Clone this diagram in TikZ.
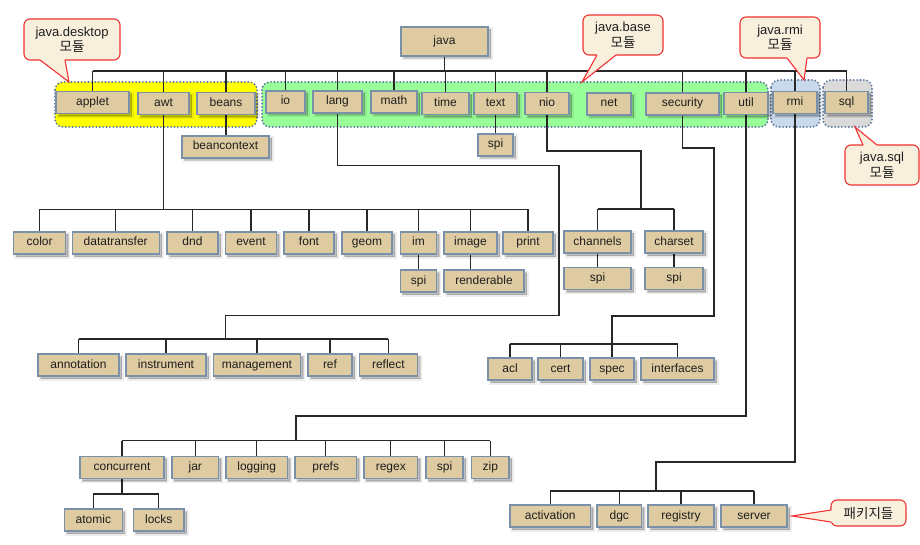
\documentclass[tikz,border=0pt]{standalone}
\usepackage{fontspec}
\setmainfont{Liberation Sans}
\newfontfamily\kr{Noto Sans CJK KR}
\definecolor{boxfill}{RGB}{223,203,161}
\definecolor{boxedge}{RGB}{122,143,168}
\definecolor{linec}{RGB}{40,40,40}
\definecolor{grpedge}{RGB}{95,122,158}
\definecolor{gyellow}{RGB}{255,255,0}
\definecolor{ggreen}{RGB}{153,255,153}
\definecolor{gblue}{RGB}{200,218,235}
\definecolor{ggray}{RGB}{218,218,218}
\definecolor{cfill}{RGB}{248,239,221}
\definecolor{cred}{RGB}{240,50,50}
\definecolor{txt}{RGB}{30,30,30}
\pgfdeclarelayer{groupslayer}
\pgfdeclarelayer{lineslayer}
\pgfsetlayers{groupslayer,lineslayer,main}
\tikzset{
  softshadow/.style={
    preaction={draw=black, fill=black, opacity=0.07, line width=4pt, transform canvas={xshift=2.5pt,yshift=-2.5pt}},
    preaction={draw=black, fill=black, opacity=0.12, line width=1.5pt, transform canvas={xshift=2.5pt,yshift=-2.5pt}}},
  pkg/.style={draw=boxedge, fill=boxfill, line width=1.1pt, minimum height=22pt,
    inner sep=0pt, text height=8.6pt, text depth=2.6pt, font=\fontsize{12}{14}\selectfont, text=txt, softshadow},
  link/.style={draw=linec, line width=1.1pt},
  grp/.style={draw=grpedge, line width=2.1pt, dash pattern=on 0pt off 3.4pt, line cap=round, rounded corners=8pt},
  cbox/.style={draw=cred, fill=cfill, line width=1.1pt, rounded corners=6pt, align=center,
    inner sep=0pt, text=txt, font=\fontsize{13}{15.5}\selectfont},
  cptr/.style={draw=cred, line width=1.1pt, line join=miter},
}
\newcommand\modul{{\kr\fontsize{13.5}{15.5}\selectfont 모듈}}
\begin{document}
\begin{tikzpicture}[x=1pt,y=-1pt]
\useasboundingbox (0,0) rectangle (920,545);

% groups
\begin{pgfonlayer}{groupslayer}
\fill[white] (0,0) rectangle (920,545);
\draw[grp, fill=gyellow] (55,82) rectangle (257,127);
\draw[grp, fill=ggreen] (262,82) rectangle (768,127);
\draw[grp, fill=gblue] (771,80) rectangle (820,127);
\draw[grp, fill=ggray] (823,80) rectangle (872,127);
\end{pgfonlayer}

% top
\node[pkg, minimum width=87pt, minimum height=29pt] (java) at (444.5,41.5) {java};
\node[pkg, minimum width=73pt] (applet) at (92.5,102.5) {applet};
\node[pkg, minimum width=51pt] (awt) at (163.5,103.5) {awt};
\node[pkg, minimum width=58pt] (beans) at (226,103.5) {beans};
\node[pkg, minimum width=39pt] (io) at (285.5,102) {io};
\node[pkg, minimum width=49pt] (lang) at (337.5,102) {lang};
\node[pkg, minimum width=46pt] (math) at (394,102) {math};
\node[pkg, minimum width=47pt] (time) at (445.5,103.5) {time};
\node[pkg, minimum width=43pt] (text) at (495.5,103.5) {text};
\node[pkg, minimum width=44pt] (nio) at (547,103.5) {nio};
\node[pkg, minimum width=44pt] (net) at (609,104) {net};
\node[pkg, minimum width=73pt] (security) at (682.5,104) {security};
\node[pkg, minimum width=44pt] (util) at (746,103.5) {util};
\node[pkg, minimum width=44pt] (rmi) at (795,102.5) {rmi};
\node[pkg, minimum width=43pt] (sql) at (846.5,102.5) {sql};

\node[pkg, minimum width=87pt] (beancontext) at (225.5,147) {beancontext};
\node[pkg, minimum width=35pt] (spiText) at (495.5,145) {spi};

% awt children
\node[pkg, minimum width=51.6pt] (color) at (39.6,243) {color};
\node[pkg, minimum width=86.7pt] (datatransfer) at (115.7,243) {datatransfer};
\node[pkg, minimum width=51pt] (dnd) at (192.5,243) {dnd};
\node[pkg, minimum width=51pt] (event) at (251,243) {event};
\node[pkg, minimum width=50pt] (font) at (309,243) {font};
\node[pkg, minimum width=50pt] (geom) at (367,243) {geom};
\node[pkg, minimum width=36pt] (im) at (418.5,243) {im};
\node[pkg, minimum width=53pt] (image) at (470.5,243) {image};
\node[pkg, minimum width=50pt] (print) at (528,243) {print};
\node[pkg, minimum width=36pt] (spiIm) at (418.5,281) {spi};
\node[pkg, minimum width=80pt] (renderable) at (484,281) {renderable};

% nio children
\node[pkg, minimum width=67pt] (channels) at (597.5,242) {channels};
\node[pkg, minimum width=58pt] (charset) at (674,242) {charset};
\node[pkg, minimum width=67pt] (spiCh) at (597.5,278.5) {spi};
\node[pkg, minimum width=58pt] (spiCs) at (674,278.5) {spi};

% lang children
\node[pkg, minimum width=81pt] (annotation) at (78.5,365) {annotation};
\node[pkg, minimum width=80pt] (instrument) at (166,365) {instrument};
\node[pkg, minimum width=87pt] (management) at (257,365) {management};
\node[pkg, minimum width=44pt] (ref) at (330,365) {ref};
\node[pkg, minimum width=58.7pt] (reflect) at (388.4,365) {reflect};

% security children
\node[pkg, minimum width=44pt] (acl) at (510,369) {acl};
\node[pkg, minimum width=45pt] (cert) at (560.5,369) {cert};
\node[pkg, minimum width=44pt] (spec) at (612,369) {spec};
\node[pkg, minimum width=73pt] (interfaces) at (677.5,369) {interfaces};

% util children
\node[pkg, minimum width=84pt] (concurrent) at (122,467.5) {concurrent};
\node[pkg, minimum width=46.7pt] (jar) at (195.3,467.5) {jar};
\node[pkg, minimum width=61.5pt] (logging) at (256.7,467.5) {logging};
\node[pkg, minimum width=61.4pt] (prefs) at (325.7,467.5) {prefs};
\node[pkg, minimum width=53.7pt] (regex) at (390.8,467.5) {regex};
\node[pkg, minimum width=37pt] (spiUtil) at (444.5,467.5) {spi};
\node[pkg, minimum width=37.2pt] (zip) at (490.4,467.5) {zip};
\node[pkg, minimum width=57.3pt] (atomic) at (93.4,520) {atomic};
\node[pkg, minimum width=50.4pt] (locks) at (158.8,520) {locks};

% rmi children
\node[pkg, minimum width=80.7pt] (activation) at (550.3,516) {activation};
\node[pkg, minimum width=44.7pt] (dgc) at (619.3,516) {dgc};
\node[pkg, minimum width=66pt] (registry) at (681,516) {registry};
\node[pkg, minimum width=66pt] (server) at (754,516) {server};

% connectors
\begin{pgfonlayer}{lineslayer}
\coordinate (bus) at (0,71);
\draw[link] (applet.north |- bus) -- (sql.north |- bus);
\draw[link] (java.south) -- (java.south |- bus);
\foreach \n in {applet,awt,beans,io,lang,math,time,text,nio,security,util,rmi,sql}
  \draw[link] (\n.north) -- (\n.north |- bus);
\draw[link] (beans.south) -- (beans.south |- beancontext.north);
\draw[link] (text.south) -- (text.south |- spiText.north);

\coordinate (awtbus) at (0,209.5);
\draw[link] (awt.south) -- (awt.south |- awtbus);
\draw[link] (color.north |- awtbus) -- (print.north |- awtbus);
\foreach \n in {color,datatransfer,dnd,event,font,geom,im,image,print}
  \draw[link] (\n.north) -- (\n.north |- awtbus);
\draw[link] (im.south) -- (im.south |- spiIm.north);
\draw[link] (image.south) -- (image.south |- renderable.north);

\coordinate (l1) at (559,165.5);
\coordinate (l2) at (225.5,315.5);
\coordinate (langbus) at (0,339);
\draw[link] (lang.south) |- (l1) |- (l2) -- (l2 |- langbus);
\draw[link] (annotation.north |- langbus) -- (reflect.north |- langbus);
\foreach \n in {annotation,instrument,management,ref,reflect}
  \draw[link] (\n.north) -- (\n.north |- langbus);

\coordinate (n1) at (641,151);
\coordinate (niobus) at (0,209);
\draw[link] (nio.south) |- (n1) -- (n1 |- niobus);
\draw[link] (channels.north |- niobus) -- (charset.north |- niobus);
\foreach \n in {channels,charset}
  \draw[link] (\n.north) -- (\n.north |- niobus);
\draw[link] (channels.south) -- (spiCh.north);
\draw[link] (charset.south) -- (spiCs.north);

\coordinate (s1) at (714,148);
\coordinate (s2) at (612,316);
\coordinate (secbus) at (0,344);
\draw[link] (security.south) |- (s1) |- (s2) -- (s2 |- secbus);
\draw[link] (acl.north |- secbus) -- (interfaces.north |- secbus);
\foreach \n in {acl,cert,spec,interfaces}
  \draw[link] (\n.north) -- (\n.north |- secbus);

\coordinate (u1) at (296,416);
\coordinate (utilbus) at (0,440.5);
\draw[link] (util.south) |- (u1) -- (u1 |- utilbus);
\draw[link] (concurrent.north |- utilbus) -- (zip.north |- utilbus);
\foreach \n in {concurrent,jar,logging,prefs,regex,spiUtil,zip}
  \draw[link] (\n.north) -- (\n.north |- utilbus);
\coordinate (cbus) at (0,494);
\draw[link] (concurrent.south) -- (concurrent.south |- cbus);
\draw[link] (atomic.north |- cbus) -- (locks.north |- cbus);
\foreach \n in {atomic,locks}
  \draw[link] (\n.north) -- (\n.north |- cbus);

\coordinate (r1) at (656,462);
\coordinate (rmibus) at (0,491);
\draw[link] (rmi.south) |- (r1) -- (r1 |- rmibus);
\draw[link] (activation.north |- rmibus) -- (server.north |- rmibus);
\foreach \n in {activation,dgc,registry,server}
  \draw[link] (\n.north) -- (\n.north |- rmibus);
\end{pgfonlayer}

% callouts
\node[cbox, minimum width=96pt, minimum height=41pt] (cDesk) at (72,39.5) {java.desktop\\\modul};
\coordinate (tDesk) at (69,82);
\fill[cfill] (40,60) -- (tDesk) -- (65,60) -- (65,57) -- (40,57) -- cycle;
\draw[cptr] (40,60) -- (tDesk) -- (65,60);

\node[cbox, minimum width=80pt, minimum height=40pt] (cBase) at (623,35) {java.base\\\modul};
\coordinate (tBase) at (582,82);
\fill[cfill] (597,55) -- (tBase) -- (616,55) -- (616,52) -- (597,52) -- cycle;
\draw[cptr] (597,55) -- (tBase) -- (616,55);

\node[cbox, minimum width=80pt, minimum height=41pt] (cRmi) at (780,37.5) {java.rmi\\\modul};
\coordinate (tRmi) at (804,80);
\fill[cfill] (787,58) -- (tRmi) -- (807,58) -- (807,55) -- (787,55) -- cycle;
\draw[cptr] (787,58) -- (tRmi) -- (807,58);

\node[cbox, minimum width=74pt, minimum height=40pt] (cSql) at (882,165) {java.sql\\\modul};
\coordinate (tSql) at (855,127);
\fill[cfill] (863,145) -- (tSql) -- (877,145) -- (877,148) -- (863,148) -- cycle;
\draw[cptr] (863,145) -- (tSql) -- (877,145);

\node[cbox, minimum width=75pt, minimum height=26pt, font=\kr\fontsize{13.5}{15.5}\selectfont] (cPkg) at (868.5,513) {패키지들};
\coordinate (tPkg) at (792,516);
\fill[cfill] (831,510) -- (tPkg) -- (831,522) -- (834,522) -- (834,510) -- cycle;
\draw[cptr] (831,510) -- (tPkg) -- (831,522);
\end{tikzpicture}
\end{document}
